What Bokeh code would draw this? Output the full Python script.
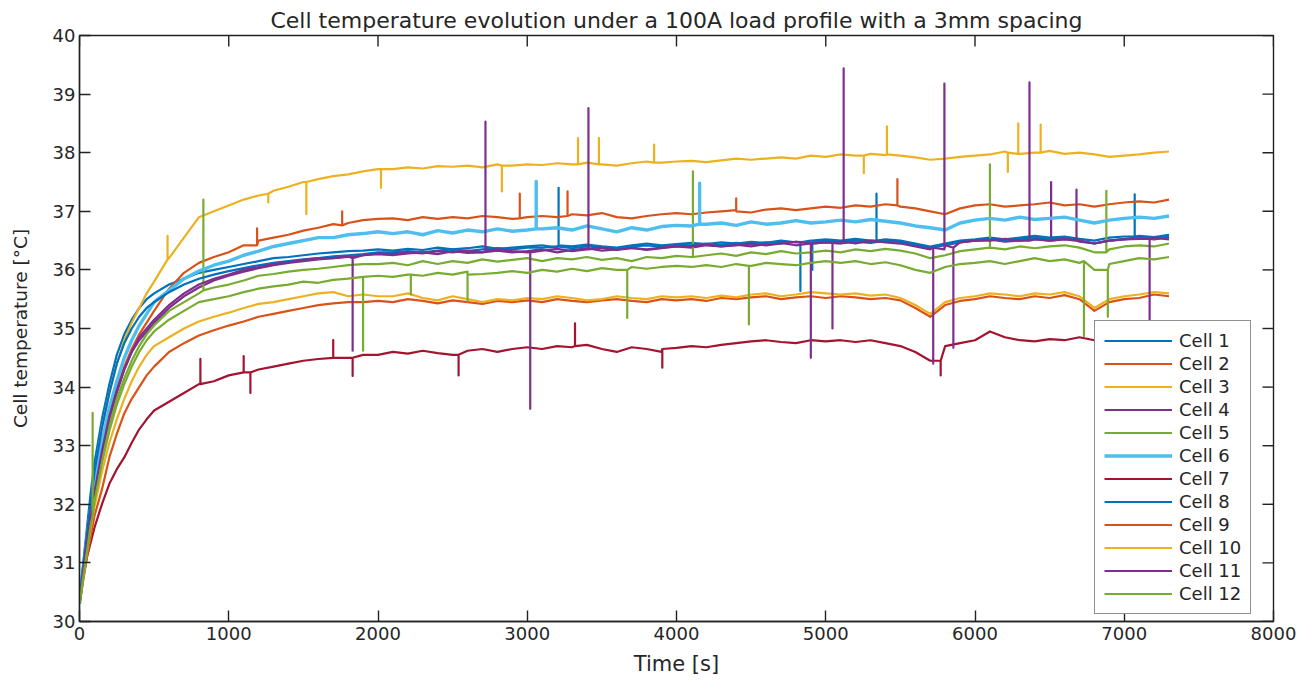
import math
from bokeh.plotting import figure
from bokeh.models import Range1d, FixedTicker, Legend, LegendItem
from bokeh.embed import file_html
from bokeh.resources import INLINE

# ---------------- data ----------------
T = [0, 25, 50, 75, 100, 150, 200, 250, 300, 350, 400, 450, 500,
     600, 700, 800, 900, 1000, 1100, 1200, 1300, 1400, 1500, 1600, 1700, 1800, 1900, 2000,
     2100, 2200, 2300, 2400, 2500, 2600, 2700, 2800, 2900, 3000,
     3100, 3200, 3300, 3400, 3500, 3600, 3700, 3800, 3900, 4000,
     4100, 4200, 4300, 4400, 4500, 4600, 4700, 4800, 4900, 5000,
     5100, 5200, 5300, 5400, 5500, 5600, 5700, 5800, 5900, 6000,
     6100, 6200, 6300, 6400, 6500, 6600, 6700, 6800, 6900, 7000,
     7100, 7200, 7300]

cell1 = [30.4, 31.0, 31.6, 32.2, 32.7, 33.45, 34.05, 34.55, 34.9, 35.15, 35.35, 35.5, 35.6,
         35.75, 35.85, 35.95, 36.0, 36.05, 36.1, 36.15, 36.2, 36.22, 36.25, 36.28, 36.3, 36.32, 36.33, 36.35,
         36.33, 36.36, 36.34, 36.38, 36.35, 36.37, 36.4, 36.36, 36.38, 36.4,
         36.42, 36.38, 36.4, 36.43, 36.4, 36.38, 36.42, 36.45, 36.42, 36.44,
         36.46, 36.44, 36.47, 36.45, 36.48, 36.46, 36.5, 36.47, 36.5, 36.52,
         36.5, 36.53, 36.5, 36.52, 36.5, 36.45, 36.4, 36.45, 36.5, 36.52,
         36.55, 36.52, 36.55, 36.58, 36.55, 36.57, 36.53, 36.5, 36.55, 36.57,
         36.58, 36.56, 36.6]

cell2 = [30.3, 30.8, 31.3, 31.8, 32.25, 32.95, 33.55, 34.0, 34.35, 34.65, 34.9, 35.1, 35.3,
         35.68, 35.95, 36.12, 36.22, 36.3, 36.42, 36.5, 36.55, 36.6, 36.67, 36.72, 36.78, 36.8, 36.85, 36.87,
         36.88, 36.85, 36.9, 36.87, 36.9, 36.88, 36.92, 36.9, 36.87, 36.9,
         36.92, 36.9, 36.95, 36.93, 36.97, 36.9, 36.88, 36.92, 36.95, 36.97,
         36.95, 36.98, 37.0, 37.02, 36.98, 37.03, 37.05, 37.02, 37.05, 37.08,
         37.06, 37.1, 37.08, 37.12, 37.08, 37.05, 37.0, 36.95, 37.05, 37.1,
         37.12, 37.08, 37.1, 37.12, 37.15, 37.1, 37.12, 37.08, 37.12, 37.15,
         37.17, 37.15, 37.2]

cell3 = [30.3, 30.9, 31.5, 32.0, 32.5, 33.3, 33.9, 34.4, 34.8, 35.1, 35.35, 35.6, 35.8,
         36.2, 36.55, 36.9, 37.0, 37.1, 37.2, 37.27, 37.35, 37.42, 37.5, 37.55, 37.6, 37.63, 37.68, 37.72,
         37.72, 37.75, 37.73, 37.77, 37.76, 37.78, 37.75, 37.8, 37.78, 37.8,
         37.79, 37.82, 37.8, 37.83, 37.8, 37.78, 37.82, 37.85, 37.83, 37.85,
         37.86, 37.84, 37.87, 37.9, 37.88, 37.9, 37.92, 37.9, 37.95, 37.93,
         37.97, 37.95, 37.98, 37.96, 37.95, 37.92, 37.88, 37.9, 37.93, 37.95,
         37.97, 38.02, 37.98, 38.0, 38.03, 37.98, 38.0, 37.97, 37.93, 37.95,
         37.97, 38.0, 38.02]

cell4 = [30.3, 30.8, 31.3, 31.75, 32.15, 32.85, 33.45, 33.9, 34.3, 34.6, 34.8, 34.95, 35.1,
         35.35, 35.55, 35.7, 35.82, 35.9, 35.97, 36.03, 36.08, 36.12, 36.15, 36.18, 36.2, 36.22, 36.25, 36.27,
         36.25, 36.28, 36.3, 36.27, 36.32, 36.29, 36.3, 36.33, 36.3, 36.32,
         36.35, 36.3, 36.34, 36.37, 36.33, 36.35, 36.38, 36.34, 36.37, 36.4,
         36.38, 36.42, 36.4, 36.43, 36.4, 36.44, 36.46, 36.42, 36.45, 36.47,
         36.45, 36.48, 36.46, 36.5, 36.47, 36.42, 36.38, 36.42, 36.47, 36.5,
         36.52, 36.48, 36.5, 36.53, 36.5, 36.52, 36.48, 36.45, 36.5, 36.52,
         36.55, 36.52, 36.56]

cell5 = [30.3, 30.8, 31.3, 31.75, 32.15, 32.8, 33.35, 33.8, 34.15, 34.45, 34.7, 34.9, 35.05,
         35.3, 35.45, 35.6, 35.7, 35.75, 35.82, 35.9, 35.93, 35.97, 36.0, 36.02, 36.05, 36.08, 36.1, 36.1,
         36.12, 36.08, 36.15, 36.1, 36.15, 36.12, 36.18, 36.14, 36.17, 36.2,
         36.15, 36.2, 36.18, 36.22, 36.17, 36.2, 36.15, 36.22, 36.2, 36.24,
         36.22, 36.25, 36.28, 36.24, 36.3, 36.27, 36.32, 36.28, 36.3, 36.33,
         36.3, 36.35, 36.32, 36.36, 36.33, 36.28, 36.2, 36.25, 36.32, 36.35,
         36.38, 36.35, 36.4, 36.37, 36.4, 36.42, 36.38, 36.3, 36.35, 36.4,
         36.42, 36.4, 36.45]

cell6 = [30.3, 30.85, 31.4, 31.9, 32.35, 33.05, 33.65, 34.1, 34.5, 34.8, 35.05, 35.25, 35.45,
         35.65, 35.85, 35.98, 36.08, 36.15, 36.25, 36.32, 36.4, 36.45, 36.5, 36.55, 36.55, 36.6, 36.62, 36.65,
         36.62, 36.65, 36.6, 36.67, 36.63, 36.68, 36.65, 36.7, 36.66, 36.68,
         36.7, 36.72, 36.68, 36.75, 36.7, 36.65, 36.72, 36.68, 36.74, 36.76,
         36.75, 36.78, 36.8, 36.76, 36.82, 36.78, 36.8, 36.84, 36.8, 36.82,
         36.85, 36.82, 36.86, 36.83, 36.8, 36.75, 36.72, 36.68, 36.8, 36.85,
         36.88, 36.85, 36.9, 36.86, 36.88, 36.9, 36.85, 36.8, 36.85, 36.88,
         36.9, 36.88, 36.92]

cell7 = [30.3, 30.75, 31.1, 31.35, 31.6, 32.0, 32.35, 32.6, 32.8, 33.05, 33.28, 33.45, 33.6,
         33.75, 33.9, 34.05, 34.1, 34.2, 34.25, 34.3, 34.35, 34.4, 34.45, 34.48, 34.5, 34.5, 34.55, 34.55,
         34.6, 34.57, 34.62, 34.58, 34.55, 34.62, 34.65, 34.6, 34.65, 34.68,
         34.65, 34.7, 34.68, 34.72, 34.65, 34.6, 34.68, 34.65, 34.6, 34.67,
         34.7, 34.68, 34.72, 34.75, 34.78, 34.8, 34.77, 34.75, 34.8, 34.78,
         34.8, 34.77, 34.8, 34.75, 34.7, 34.6, 34.45, 34.7, 34.75, 34.8,
         34.95, 34.85, 34.8, 34.78, 34.82, 34.8, 34.85, 34.8, 34.82, 34.85,
         34.83, 34.85, 34.8]

cell8 = [30.35, 30.95, 31.5, 32.05, 32.55, 33.3, 33.9, 34.4, 34.75, 35.0, 35.2, 35.35, 35.45,
         35.62, 35.75, 35.85, 35.92, 35.98, 36.03, 36.08, 36.12, 36.15, 36.18, 36.2, 36.23, 36.25, 36.27, 36.3,
         36.3, 36.32, 36.3, 36.33, 36.35, 36.32, 36.35, 36.37, 36.35, 36.38,
         36.38, 36.4, 36.37, 36.4, 36.38, 36.35, 36.4, 36.42, 36.4, 36.43,
         36.42, 36.45, 36.43, 36.46, 36.44, 36.47, 36.45, 36.48, 36.47, 36.5,
         36.48, 36.5, 36.48, 36.5, 36.47, 36.42, 36.38, 36.43, 36.48, 36.5,
         36.52, 36.5, 36.53, 36.55, 36.52, 36.55, 36.5, 36.45, 36.5, 36.53,
         36.55, 36.53, 36.57]

cell9 = [30.3, 30.7, 31.1, 31.45, 31.8, 32.25, 32.8, 33.2, 33.55, 33.8, 34.0, 34.2, 34.35,
         34.6, 34.75, 34.88, 34.97, 35.05, 35.12, 35.2, 35.25, 35.3, 35.35, 35.4, 35.43, 35.45, 35.45, 35.47,
         35.45, 35.5, 35.47, 35.43, 35.48, 35.45, 35.42, 35.47, 35.45, 35.48,
         35.45, 35.5, 35.47, 35.45, 35.48, 35.5, 35.47, 35.45, 35.5, 35.48,
         35.5, 35.47, 35.52, 35.5, 35.53, 35.55, 35.5, 35.53, 35.55, 35.52,
         35.55, 35.53, 35.5, 35.52, 35.48, 35.35, 35.2, 35.4, 35.47, 35.5,
         35.55, 35.52, 35.5, 35.55, 35.52, 35.57, 35.5, 35.3, 35.45, 35.5,
         35.52, 35.58, 35.55]

cell10 = [30.3, 30.75, 31.2, 31.6, 31.95, 32.55, 33.05, 33.45, 33.8, 34.1, 34.35, 34.55, 34.7,
          34.85, 35.0, 35.12, 35.2, 35.27, 35.35, 35.42, 35.45, 35.5, 35.55, 35.6, 35.62, 35.55, 35.58, 35.55,
          35.55, 35.6, 35.52, 35.48, 35.55, 35.5, 35.45, 35.5, 35.48, 35.52,
          35.5, 35.55, 35.52, 35.48, 35.5, 35.55, 35.52, 35.5, 35.55, 35.53,
          35.55, 35.52, 35.56, 35.53, 35.58, 35.6, 35.55, 35.58, 35.62, 35.6,
          35.58, 35.6, 35.56, 35.58, 35.52, 35.4, 35.25, 35.45, 35.52, 35.55,
          35.6, 35.58, 35.55, 35.6, 35.58, 35.62, 35.55, 35.35, 35.5, 35.55,
          35.58, 35.62, 35.6]

cell11 = [30.3, 30.85, 31.35, 31.8, 32.2, 32.9, 33.5, 33.95, 34.3, 34.6, 34.85, 35.0, 35.15,
          35.4, 35.6, 35.75, 35.85, 35.92, 36.0, 36.05, 36.1, 36.13, 36.17, 36.2, 36.2, 36.23, 36.25, 36.28,
          36.27, 36.3, 36.28, 36.32, 36.3, 36.33, 36.3, 36.35, 36.32, 36.3,
          36.33, 36.36, 36.32, 36.35, 36.38, 36.34, 36.37, 36.35, 36.38, 36.4,
          36.4, 36.43, 36.4, 36.42, 36.45, 36.42, 36.45, 36.48, 36.45, 36.47,
          36.48, 36.45, 36.5, 36.47, 36.45, 36.4, 36.35, 36.42, 36.47, 36.5,
          36.5, 36.53, 36.5, 36.52, 36.5, 36.53, 36.5, 36.45, 36.5, 36.52,
          36.53, 36.55, 36.52]

cell12 = [30.3, 30.75, 31.2, 31.65, 32.05, 32.7, 33.25, 33.7, 34.05, 34.35, 34.6, 34.8, 34.95,
          35.15, 35.3, 35.45, 35.5, 35.55, 35.62, 35.68, 35.72, 35.75, 35.8, 35.78, 35.83, 35.85, 35.88, 35.9,
          35.88, 35.92, 35.9, 35.95, 35.92, 35.97, 35.93, 35.95, 35.98, 35.95,
          36.0, 35.97, 36.02, 35.98, 36.03, 36.0, 36.05, 36.02, 36.05, 36.07,
          36.05, 36.08, 36.05, 36.1, 36.07, 36.12, 36.1, 36.08, 36.12, 36.15,
          36.12, 36.15, 36.1, 36.13, 36.08, 36.0, 35.95, 36.05, 36.1, 36.12,
          36.15, 36.1, 36.15, 36.2, 36.15, 36.18, 36.12, 36.0, 36.1, 36.15,
          36.2, 36.18, 36.22]

# single-sample sensor spikes: (time, level before, spike value)
spikes1 = [(3210, 36.42, 37.4), (4830, 36.47, 35.64), (4910, 36.5, 36.0), (5340, 36.5, 37.3), (7070, 36.57, 37.29)]
spikes2 = [(1190, 36.42, 36.71), (1760, 36.76, 37.0), (2950, 36.88, 37.3), (3270, 36.92, 37.34),
           (4400, 37.0, 37.22), (5480, 37.1, 37.55)]
spikes3 = [(590, 36.18, 36.58), (1265, 37.3, 37.15), (1520, 37.5, 36.95), (2020, 37.72, 37.4),
           (2830, 37.78, 37.34), (3340, 37.8, 38.25), (3480, 37.8, 38.25), (3850, 37.83, 38.14),
           (5255, 37.95, 37.65), (5410, 37.97, 38.45), (6220, 38.0, 37.67), (6290, 37.98, 38.5), (6440, 38.0, 38.48)]
spikes4 = [(6510, 36.5, 37.5), (6680, 36.5, 37.37)]
spikes5 = [(830, 35.65, 37.2), (4110, 36.22, 37.68), (6100, 36.38, 37.8), (6880, 36.3, 37.35)]
spikes6 = [(3060, 36.7, 37.51), (4155, 36.78, 37.48)]
spikes7 = [(810, 34.05, 34.48), (1100, 34.25, 34.53), (1145, 34.25, 33.9), (1700, 34.5, 34.8),
           (1830, 34.5, 34.19), (2540, 34.55, 34.2), (3320, 34.7, 35.09), (3905, 34.65, 34.33), (5770, 34.45, 34.2)]
spikes8 = []
spikes9 = []
spikes10 = []
spikes11 = [(1830, 36.2, 34.62), (2720, 36.32, 38.53), (3020, 36.3, 33.63), (3410, 36.35, 38.76),
            (4900, 36.45, 34.5), (5045, 36.47, 35.0), (5120, 36.48, 39.44), (5720, 36.38, 34.4),
            (5795, 36.35, 39.18), (5855, 36.38, 34.67), (6365, 36.5, 39.2), (7170, 36.53, 34.96)]
spikes12 = [(88, 31.8, 33.56), (1900, 35.88, 34.62), (2220, 35.92, 35.58), (2600, 35.92, 35.47),
            (3670, 36.0, 35.18), (4485, 36.07, 35.07), (6730, 36.15, 34.87), (6890, 36.0, 35.2)]

labels = ["Cell 1", "Cell 2", "Cell 3", "Cell 4", "Cell 5", "Cell 6",
          "Cell 7", "Cell 8", "Cell 9", "Cell 10", "Cell 11", "Cell 12"]
colors = ["#0072BD", "#D95319", "#EDB120", "#7E2F8E", "#77AC30", "#4DBEEE",
          "#A2142F", "#0072BD", "#D95319", "#EDB120", "#7E2F8E", "#77AC30"]
x_ticks = [0, 1000, 2000, 3000, 4000, 5000, 6000, 7000, 8000]
y_ticks = [30, 31, 32, 33, 34, 35, 36, 37, 38, 39, 40]
X_MAX = 8000
Y_MAX = 40

series = [cell1, cell2, cell3, cell4, cell5, cell6, cell7, cell8, cell9, cell10, cell11, cell12]
spikes = [spikes1, spikes2, spikes3, spikes4, spikes5, spikes6, spikes7, spikes8, spikes9,
          spikes10, spikes11, spikes12]


def merge(vals, spk):
    pts = [(t, 0, v) for t, v in zip(T, vals)]
    for (t, b, pk) in spk:
        pts += [(t, 1, b), (t, 2, pk), (t, 3, b)]
    pts.sort(key=lambda q: (q[0], q[1]))
    return [q[0] for q in pts], [q[2] for q in pts]


FONT = "DejaVu Sans"
TXT = "#262626"
AX = "#222222"

p = figure(width=1299, height=684, x_range=Range1d(0, X_MAX), y_range=Range1d(30, Y_MAX),
           output_backend="svg", toolbar_location=None,
           min_border_left=79, min_border_right=26, min_border_top=35, min_border_bottom=63)

p.title.text = "Cell temperature evolution under a 100A load profile with a 3mm spacing"
p.title.align = "center"
p.title.text_font = FONT
p.title.text_font_style = "normal"
p.title.text_font_size = "22px"
p.title.text_color = TXT
p.title.standoff = 6

p.grid.visible = False
p.outline_line_color = AX
p.outline_line_width = 1.4
p.background_fill_color = "white"
p.border_fill_color = "white"

for ax in (p.xaxis[0], p.yaxis[0]):
    ax.major_tick_in = 11
    ax.major_tick_out = 0
    ax.minor_tick_line_color = None
    ax.axis_line_color = AX
    ax.axis_line_width = 1.4
    ax.major_tick_line_color = AX
    ax.major_tick_line_width = 1.4
    ax.major_label_text_font = FONT
    ax.major_label_text_font_size = "18px"
    ax.major_label_text_color = TXT
    ax.axis_label_text_font = FONT
    ax.axis_label_text_font_style = "normal"
    ax.axis_label_text_color = TXT

p.xaxis.ticker = FixedTicker(ticks=x_ticks)
p.yaxis.ticker = FixedTicker(ticks=y_ticks)
p.xaxis.axis_label = "Time [s]"
p.xaxis.axis_label_text_font_size = "21px"
p.xaxis.major_label_standoff = 5
p.xaxis.axis_label_standoff = 9
p.yaxis.axis_label = "Cell temperature [°C]"
p.yaxis.axis_label_text_font_size = "18.5px"
p.yaxis.major_label_standoff = 4
p.yaxis.axis_label_standoff = 19

# inward tick marks on the top and right edges of the box
p.scatter(x_ticks, [Y_MAX] * len(x_ticks), marker="dash", angle=math.pi / 2, size=22,
          line_color=AX, line_width=1.4)
p.scatter([X_MAX] * len(y_ticks), y_ticks, marker="dash", size=22,
          line_color=AX, line_width=1.4)

items = []
for i, (vals, spk) in enumerate(zip(series, spikes)):
    xs, ys = merge(vals, spk)
    lw = 3.4 if i == 5 else 2.2
    r = p.line(xs, ys, line_color=colors[i], line_width=lw, line_join="round")
    items.append(LegendItem(label=labels[i], renderers=[r]))

legend = Legend(items=items, location=(1015, 7), glyph_width=68, glyph_height=21,
                label_height=21, spacing=2, padding=9, label_standoff=7,
                label_text_font=FONT, label_text_font_size="18px", label_text_color=TXT,
                border_line_color=AX, border_line_width=1.3,
                background_fill_color="white", background_fill_alpha=1.0)
p.add_layout(legend)

open("out.html", "w").write(file_html(p, INLINE))
